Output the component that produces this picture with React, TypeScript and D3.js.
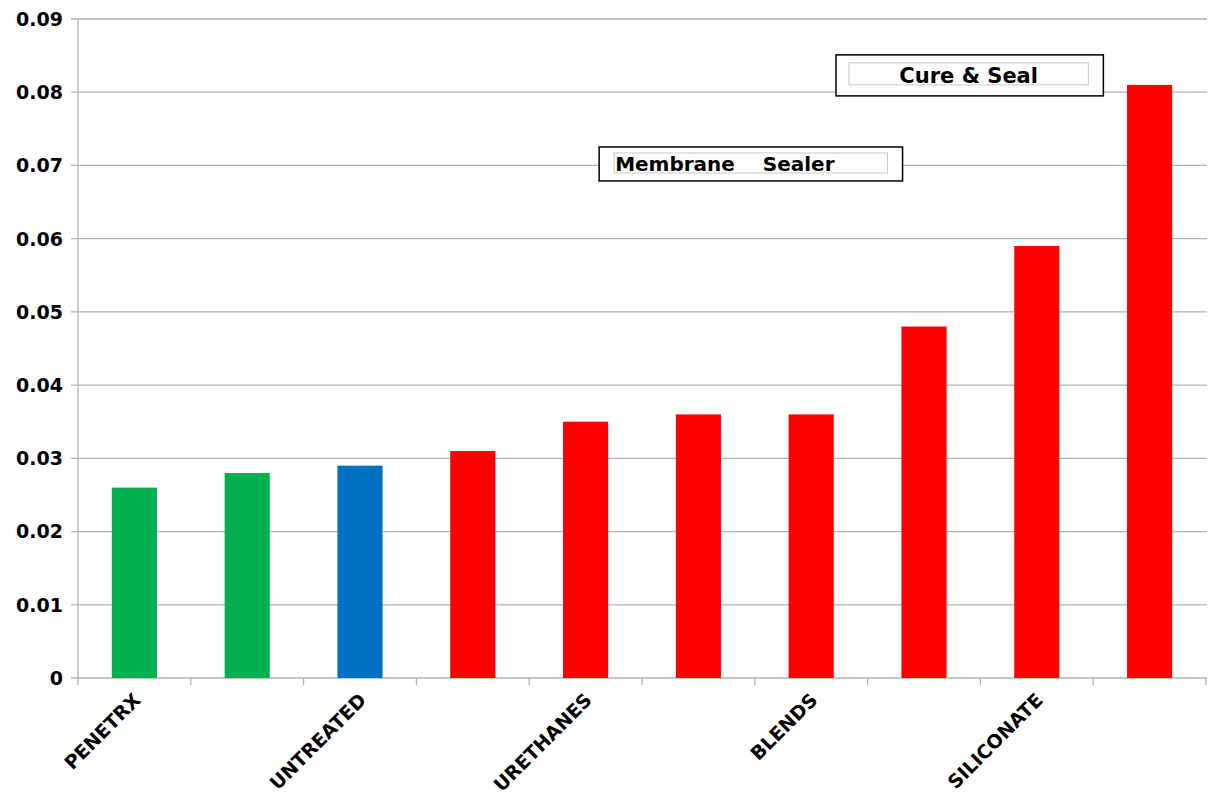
import React from "react";
import * as d3 from "d3";

const categories = ["PENETRX", "PENETRX 2", "UNTREATED", "URETHANE 1", "URETHANES", "URETHANE 3", "BLENDS", "SILICONATE 1", "SILICONATE", "SILICONATE 3"];
const shownLabels = ["PENETRX", "", "UNTREATED", "", "URETHANES", "", "BLENDS", "", "SILICONATE", ""];
const values = [0.026, 0.028, 0.029, 0.031, 0.035, 0.036, 0.036, 0.048, 0.059, 0.081];
const groups = ["green", "green", "blue", "red", "red", "red", "red", "red", "red", "red"];
const yTicks = [0, 0.01, 0.02, 0.03, 0.04, 0.05, 0.06, 0.07, 0.08, 0.09];
const tickLabels = ["0", "0.01", "0.02", "0.03", "0.04", "0.05", "0.06", "0.07", "0.08", "0.09"];
const annotations = [
  { text: "Membrane\u00a0\u00a0\u00a0\u00a0Sealer", value: 0.0702, from: 4.62, to: 7.31, h: 34, fs: 20, anchor: "start" },
  { text: "Cure & Seal", value: 0.0823, from: 6.72, to: 9.09, h: 41, fs: 21, anchor: "middle" },
];

const colorMap: Record<string, string> = { green: "#00B050", blue: "#0070C0", red: "#FF0000" };

export default function App() {
  const W = 1212, H = 796;
  const left = 78, right = 1206, top = 19, bottom = 678;
  const x = d3.scaleBand<string>().domain(categories).range([left, right]).padding(0);
  const xi = d3.scaleLinear().domain([0, categories.length]).range([left, right]);
  const y = d3.scaleLinear().domain([0, 0.09]).range([bottom, top]);
  const bw = x.step() * 0.4;
  const font = "'DejaVu Sans', Verdana, sans-serif";
  return (
    <svg width={W} height={H} style={{ position: "absolute", left: 0, top: 0, background: "#fff" }} fontFamily={font}>
      {yTicks.map((t, i) => (
        <g key={"g" + i}>
          <line x1={left - 7} x2={right + 1} y1={y(t)} y2={y(t)} stroke="#b3b3b3" strokeWidth={1.3} />
          <text x={63} y={y(t)} dy="0.36em" textAnchor="end" fontSize={19} fontWeight="bold" fill="#000">{tickLabels[i]}</text>
        </g>
      ))}
      <line x1={left} x2={left} y1={top} y2={bottom} stroke="#b3b3b3" strokeWidth={1.3} />
      {d3.range(categories.length + 1).map((i) => (
        <line key={"t" + i} x1={xi(i)} x2={xi(i)} y1={bottom} y2={bottom + 7} stroke="#b3b3b3" strokeWidth={1.3} />
      ))}
      {categories.map((c, i) => {
        const cx = (x(c) as number) + x.bandwidth() / 2;
        return (
          <rect key={"b" + i} x={cx - bw / 2} y={y(values[i])} width={bw} height={y(0) - y(values[i])} fill={colorMap[groups[i]]} />
        );
      })}
      {categories.map((c, i) => {
        const cx = (x(c) as number) + x.bandwidth() / 2;
        if (!shownLabels[i]) return null;
        return (
          <text key={"l" + i} transform={`translate(${cx - 2},${bottom + 14}) rotate(-45)`} textAnchor="end" dy="0.7em" fontSize={19} fontWeight="bold" fill="#000">{shownLabels[i]}</text>
        );
      })}
      {annotations.map((a, i) => {
        const x0 = xi(a.from), x1 = xi(a.to);
        const cy = y(a.value);
        const top0 = cy - a.h / 2;
        const innerTop = i === 0 ? top0 + 6 : top0 + 8;
        const innerH = i === 0 ? 20 : 22;
        const innerL = i === 0 ? x0 + 15 : x0 + 13;
        const innerR = x1 - 15;
        return (
          <g key={"a" + i}>
            <rect x={x0} y={top0} width={x1 - x0} height={a.h} fill="#fff" stroke="#000" strokeWidth={1.5} />
            <rect x={innerL} y={innerTop} width={innerR - innerL} height={innerH} fill="#fff" stroke="#c8c8c8" strokeWidth={1} />
            <text x={a.anchor === "start" ? innerL + 1 : (innerL + innerR) / 2} y={innerTop + innerH - 2} textAnchor={a.anchor} fontSize={a.fs} fontWeight="bold" fill="#000">{a.text}</text>
          </g>
        );
      })}
    </svg>
  );
}
